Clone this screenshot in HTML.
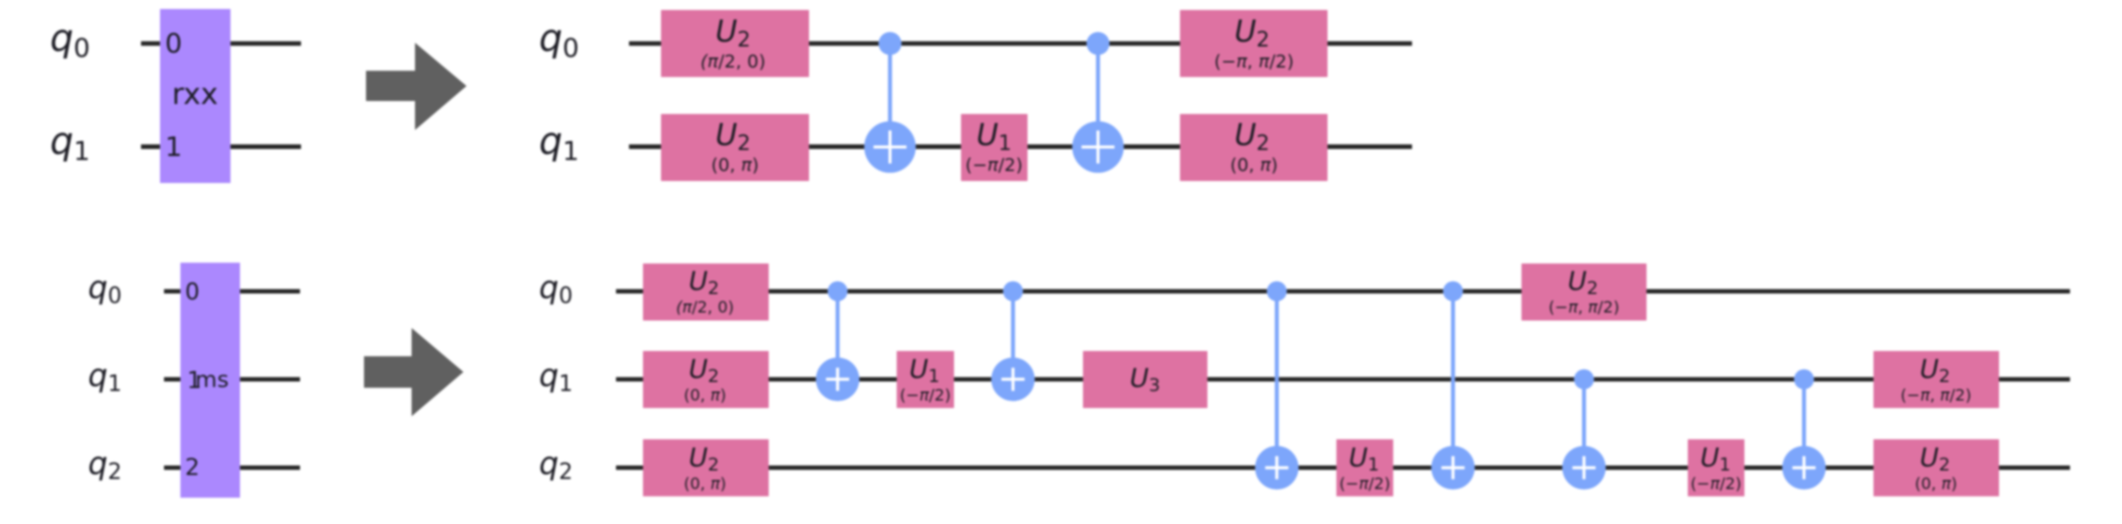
<!DOCTYPE html>
<html lang="en">
<head>
<meta charset="utf-8">
<title>Circuit decomposition diagram</title>
<style>
html,body{margin:0;padding:0;background:#fff;width:2122px;height:524px;overflow:hidden}
svg{display:block}
text{font-family:"DejaVu Sans","Liberation Sans",sans-serif;fill:#1c1c24}
.i{font-style:italic}
.wire{stroke:#262626;stroke-width:4.6;fill:none}
.wb{stroke:#262626;stroke-width:4.4;fill:none}
.u{fill:#de72a2}
.p{fill:#ab88fe}
.arrow{fill:#606060}
.c{stroke:#7da6fb;stroke-width:4;fill:none}
.d{fill:#7da6fb}
.x{stroke:#fff;stroke-width:3;fill:none}
.m{font-size:30px;text-anchor:middle;font-style:italic}
.ms{font-size:26px;text-anchor:middle;font-style:italic}
.m tspan,.ms tspan{font-style:normal}
.s{font-size:18px;text-anchor:middle}
.ss{font-size:16px;text-anchor:middle}
</style>
</head>
<body>
<svg width="2122" height="524" viewBox="0 0 2122 524" xmlns="http://www.w3.org/2000/svg">
<g style="filter:blur(1px)">

<g>
  <path class="wire" d="M141 43.5H301"/>
  <path class="wire" d="M141 146.7H301"/>
  <rect class="p" x="160" y="9" width="70.5" height="174"/>
  <text x="50" y="51" font-size="37"><tspan class="i">q</tspan><tspan font-size="26" dy="6">0</tspan></text>
  <text x="50" y="154" font-size="37"><tspan class="i">q</tspan><tspan font-size="26" dy="6">1</tspan></text>
  <text x="165" y="52.7" font-size="27">0</text>
  <text x="165" y="156" font-size="27">1</text>
  <text x="195" y="104" font-size="29.5" text-anchor="middle">rxx</text>
</g>

<polygon class="arrow" points="366,70.7 415,70.7 415,42.7 466.5,86 415,130 415,101 366,101"/>

<g>
  <path class="wire" d="M629 43.5H1412"/>
  <path class="wire" d="M629 146.7H1412"/>
  <text x="539" y="51" font-size="37"><tspan class="i">q</tspan><tspan font-size="26" dy="6">0</tspan></text>
  <text x="539" y="154" font-size="37"><tspan class="i">q</tspan><tspan font-size="26" dy="6">1</tspan></text>

  <rect class="u" x="661" y="10" width="148" height="67"/>
  <text class="m" x="733" y="41.5">U<tspan font-size="21" dy="5">2</tspan></text>
  <text class="s" x="733" y="67.5"><tspan class="i">(π</tspan>/2, 0)</text>

  <rect class="u" x="661" y="114" width="148" height="67"/>
  <text class="m" x="733" y="145">U<tspan font-size="21" dy="5">2</tspan></text>
  <text class="s" x="735" y="171">(0, <tspan class="i">π</tspan>)</text>

  <path class="c" d="M890 43.5V147"/>
  <circle class="d" cx="890" cy="43.5" r="11.5"/>
  <circle class="d" cx="890" cy="147" r="25.8"/>
  <path class="x" d="M873.5 147H906.5M890 130.5V163.5"/>

  <rect class="u" x="961" y="114" width="66.5" height="67"/>
  <text class="m" x="994" y="145">U<tspan font-size="21" dy="5">1</tspan></text>
  <text class="s" x="994" y="171">(−<tspan class="i">π</tspan>/2)</text>

  <path class="c" d="M1098 43.5V147"/>
  <circle class="d" cx="1098" cy="43.5" r="11.5"/>
  <circle class="d" cx="1098" cy="147" r="25.8"/>
  <path class="x" d="M1081.5 147H1114.5M1098 130.5V163.5"/>

  <rect class="u" x="1180" y="10" width="147.5" height="67"/>
  <text class="m" x="1252" y="41.5">U<tspan font-size="21" dy="5">2</tspan></text>
  <text class="s" x="1254" y="67.5">(−<tspan class="i">π</tspan>, <tspan class="i">π</tspan>/2)</text>

  <rect class="u" x="1180" y="114" width="147.5" height="67"/>
  <text class="m" x="1252" y="145">U<tspan font-size="21" dy="5">2</tspan></text>
  <text class="s" x="1254" y="171">(0, <tspan class="i">π</tspan>)</text>
</g>

<g>
  <path class="wb" d="M164 291.3H300"/>
  <path class="wb" d="M164 379.3H300"/>
  <path class="wb" d="M164 467.7H300"/>
  <rect class="p" x="180.4" y="262.7" width="59.6" height="235"/>
  <text x="88" y="298" font-size="31"><tspan class="i">q</tspan><tspan font-size="22" dy="5">0</tspan></text>
  <text x="88" y="386" font-size="31"><tspan class="i">q</tspan><tspan font-size="22" dy="5">1</tspan></text>
  <text x="88" y="474" font-size="31"><tspan class="i">q</tspan><tspan font-size="22" dy="5">2</tspan></text>
  <text x="185" y="299.3" font-size="23">0</text>
  <text x="187" y="388" font-size="23">1</text>
  <text x="185" y="475" font-size="23">2</text>
  <text x="212" y="387" font-size="22.5" text-anchor="middle">ms</text>
</g>

<polygon class="arrow" points="364,356.3 411.6,356.3 411.6,328 463.4,372 411.6,416.3 411.6,387.7 364,387.7"/>

<g>
  <path class="wb" d="M616 291.3H2070"/>
  <path class="wb" d="M616 379.3H2070"/>
  <path class="wb" d="M616 467.7H2070"/>
  <text x="539" y="298" font-size="31"><tspan class="i">q</tspan><tspan font-size="22" dy="5">0</tspan></text>
  <text x="539" y="386" font-size="31"><tspan class="i">q</tspan><tspan font-size="22" dy="5">1</tspan></text>
  <text x="539" y="474" font-size="31"><tspan class="i">q</tspan><tspan font-size="22" dy="5">2</tspan></text>

  <rect class="u" x="643" y="263.5" width="125.7" height="57"/>
  <text class="ms" x="704" y="290">U<tspan font-size="18" dy="4">2</tspan></text>
  <text class="ss" x="705" y="312.7"><tspan class="i">(π</tspan>/2, 0)</text>

  <rect class="u" x="643" y="351" width="125.7" height="57"/>
  <text class="ms" x="704" y="378">U<tspan font-size="18" dy="4">2</tspan></text>
  <text class="ss" x="705" y="400.7">(0, <tspan class="i">π</tspan>)</text>

  <rect class="u" x="643" y="439.3" width="125.7" height="57"/>
  <text class="ms" x="704" y="466.3">U<tspan font-size="18" dy="4">2</tspan></text>
  <text class="ss" x="705" y="489">(0, <tspan class="i">π</tspan>)</text>

  <path class="c" d="M837.6 291.3V379.3"/>
  <circle class="d" cx="837.6" cy="291.3" r="10"/>
  <circle class="d" cx="837.6" cy="379.3" r="21.8"/>
  <path class="x" d="M826 379.3H849.2M837.6 367.7V390.9"/>

  <rect class="u" x="896.7" y="351" width="57.3" height="57"/>
  <text class="ms" x="924.5" y="378">U<tspan font-size="18" dy="4">1</tspan></text>
  <text class="ss" x="925.3" y="400.7">(−<tspan class="i">π</tspan>/2)</text>

  <path class="c" d="M1013 291.3V379.3"/>
  <circle class="d" cx="1013" cy="291.3" r="10"/>
  <circle class="d" cx="1013" cy="379.3" r="21.8"/>
  <path class="x" d="M1001.4 379.3H1024.6M1013 367.7V390.9"/>

  <rect class="u" x="1083" y="351" width="124.4" height="57"/>
  <text class="ms" x="1145" y="387">U<tspan font-size="18" dy="4">3</tspan></text>

  <path class="c" d="M1276.8 291.3V467.7"/>
  <circle class="d" cx="1276.8" cy="291.3" r="10"/>
  <circle class="d" cx="1276.8" cy="467.7" r="21.8"/>
  <path class="x" d="M1265.2 467.7H1288.4M1276.8 456.1V479.3"/>

  <rect class="u" x="1336.4" y="439.3" width="56.8" height="57"/>
  <text class="ms" x="1364" y="466.3">U<tspan font-size="18" dy="4">1</tspan></text>
  <text class="ss" x="1364.8" y="489">(−<tspan class="i">π</tspan>/2)</text>

  <path class="c" d="M1453 291.3V467.7"/>
  <circle class="d" cx="1453" cy="291.3" r="10"/>
  <circle class="d" cx="1453" cy="467.7" r="21.8"/>
  <path class="x" d="M1441.4 467.7H1464.6M1453 456.1V479.3"/>

  <rect class="u" x="1521.5" y="263.5" width="125" height="57"/>
  <text class="ms" x="1583" y="290">U<tspan font-size="18" dy="4">2</tspan></text>
  <text class="ss" x="1584" y="312.7">(−<tspan class="i">π</tspan>, <tspan class="i">π</tspan>/2)</text>

  <path class="c" d="M1584 379.3V467.7"/>
  <circle class="d" cx="1584" cy="379.3" r="10"/>
  <circle class="d" cx="1584" cy="467.7" r="21.8"/>
  <path class="x" d="M1572.4 467.7H1595.6M1584 456.1V479.3"/>

  <rect class="u" x="1687.8" y="439.3" width="56.6" height="57"/>
  <text class="ms" x="1715.5" y="466.3">U<tspan font-size="18" dy="4">1</tspan></text>
  <text class="ss" x="1716" y="489">(−<tspan class="i">π</tspan>/2)</text>

  <path class="c" d="M1804 379.3V467.7"/>
  <circle class="d" cx="1804" cy="379.3" r="10"/>
  <circle class="d" cx="1804" cy="467.7" r="21.8"/>
  <path class="x" d="M1792.4 467.7H1815.6M1804 456.1V479.3"/>

  <rect class="u" x="1873.5" y="351" width="125.5" height="57"/>
  <text class="ms" x="1935" y="378">U<tspan font-size="18" dy="4">2</tspan></text>
  <text class="ss" x="1936" y="400.7">(−<tspan class="i">π</tspan>, <tspan class="i">π</tspan>/2)</text>

  <rect class="u" x="1873.5" y="439.3" width="125.5" height="57"/>
  <text class="ms" x="1935" y="466.3">U<tspan font-size="18" dy="4">2</tspan></text>
  <text class="ss" x="1936" y="489">(0, <tspan class="i">π</tspan>)</text>
</g>
</g>
</svg>
</body>
</html>
